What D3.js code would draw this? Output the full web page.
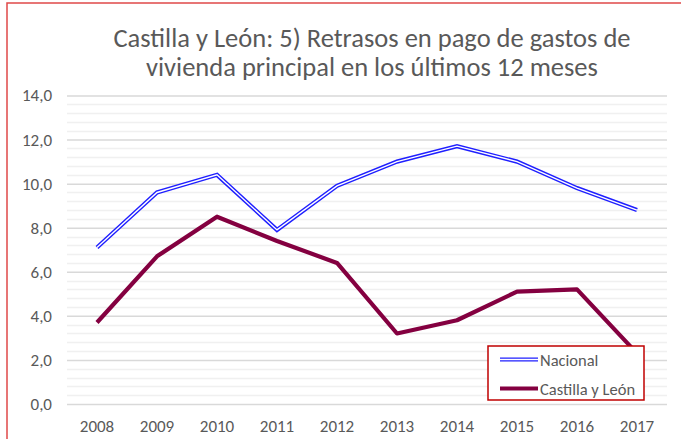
<!DOCTYPE html>
<html><head><meta charset="utf-8">
<script src="https://cdn.jsdelivr.net/npm/d3@7"></script>
<style>body{margin:0;background:#fff}svg{display:block}</style>
</head><body>
<script>
const years = ["2008","2009","2010","2011","2012","2013","2014","2015","2016","2017"];
const nacional = [7.1, 9.6, 10.4, 7.9, 9.9, 11.0, 11.7, 11.0, 9.8, 8.8];
const castilla = [3.7, 6.7, 8.5, 7.4, 6.4, 3.2, 3.8, 5.1, 5.2, 2.3];
const yTicks = [0, 2, 4, 6, 8, 10, 12, 14];
const titleLines = ["Castilla y León: 5) Retrasos en pago de gastos de", "vivienda principal en los últimos 12 meses"];
const legendLabels = ["Nacional", "Castilla y León"];

(function () {
const W = 681, H = 439;
const svg = d3.select("body").append("svg").attr("width", W).attr("height", H);
const font = "Calibri, Carlito, 'Open Sans', sans-serif";
const textCol = "#595959";

svg.append("rect").attr("x", 7).attr("y", 3).attr("width", 800).attr("height", 600)
  .attr("fill", "#fff").attr("stroke", "#e04848").attr("stroke-width", 1.5);

const pL = 67, pR = 667, pT = 95.5, pB = 404;
const x = d3.scaleBand().domain(years).range([pL, pR]);
const y = d3.scaleLinear().domain([0, 14]).range([pB, pT]);

const minor = d3.range(0, 14.001, 0.4).filter(v => Math.abs(v / 2 - Math.round(v / 2)) > 0.01);
svg.append("g").selectAll("line").data(minor).join("line")
  .attr("x1", pL).attr("x2", pR)
  .attr("y1", d => Math.round(y(d)) + 0.5).attr("y2", d => Math.round(y(d)) + 0.5)
  .attr("stroke", "#f0f0f0").attr("stroke-width", 1.5);

const yAxis = d3.axisLeft(y).tickValues(yTicks).tickSize(-(pR - pL)).tickPadding(15)
  .tickFormat(d => d3.format(".1f")(d).replace(".", ","));
const gy = svg.append("g").attr("transform", `translate(${pL},0)`).call(yAxis);
gy.select(".domain").remove();
gy.selectAll(".tick line").attr("stroke", "#d9d9d9").attr("stroke-width", 1.5);
gy.selectAll(".tick text").attr("fill", textCol).style("font-family", font).style("font-size", "17px");

const xAxis = d3.axisBottom(x).tickSize(0).tickPadding(16);
const gx = svg.append("g").attr("transform", `translate(0,${pB})`).call(xAxis);
gx.select(".domain").remove();
gx.selectAll(".tick text").attr("fill", textCol).style("font-family", font).style("font-size", "17px");

const line = d3.line().x((d, i) => x(years[i]) + x.bandwidth() / 2).y(d => y(d));

svg.append("path").datum(nacional).attr("d", line).attr("fill", "none")
  .attr("stroke", "#1f1fff").attr("stroke-width", 4.2);
svg.append("path").datum(nacional).attr("d", line).attr("fill", "none")
  .attr("stroke", "#fff").attr("stroke-width", 1.4);
svg.append("path").datum(castilla).attr("d", line).attr("fill", "none")
  .attr("stroke", "#840040").attr("stroke-width", 4.2).attr("stroke-linejoin", "round");

svg.append("g").selectAll("text").data(titleLines).join("text")
  .attr("x", 372).attr("y", (d, i) => 47 + i * 29).attr("text-anchor", "middle")
  .attr("fill", textCol).style("font-family", font).style("font-size", "26.5px")
  .text(d => d);

const lg = svg.append("g");
lg.append("rect").attr("x", 488).attr("y", 346).attr("width", 156).attr("height", 54)
  .attr("fill", "#fff").attr("stroke", "#c00000").attr("stroke-width", 1.5);
const ly = [359.5, 388.5];
lg.append("line").attr("x1", 500).attr("x2", 538).attr("y1", ly[0]).attr("y2", ly[0])
  .attr("stroke", "#1f1fff").attr("stroke-width", 4.2);
lg.append("line").attr("x1", 500).attr("x2", 538).attr("y1", ly[0]).attr("y2", ly[0])
  .attr("stroke", "#fff").attr("stroke-width", 1.4);
lg.append("line").attr("x1", 500).attr("x2", 538).attr("y1", ly[1]).attr("y2", ly[1])
  .attr("stroke", "#840040").attr("stroke-width", 4.2);
lg.selectAll("text").data(legendLabels).join("text")
  .attr("x", 540).attr("y", (d, i) => ly[i] + 6)
  .attr("fill", textCol).style("font-family", font).style("font-size", "16.5px").text(d => d);
})();
</script>
</body></html>
